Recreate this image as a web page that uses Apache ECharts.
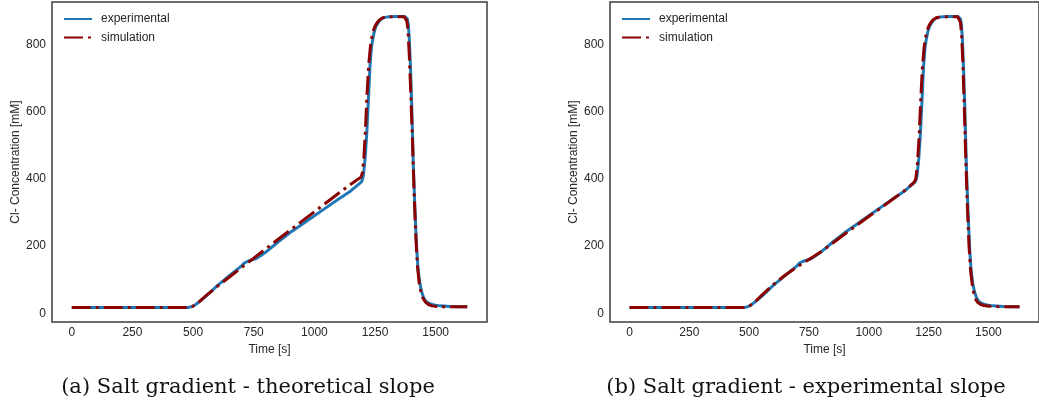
<!DOCTYPE html>
<html>
<head>
<meta charset="utf-8">
<script src="https://cdn.jsdelivr.net/npm/echarts@6/dist/echarts.min.js"></script>
<style>
html,body{margin:0;padding:0;background:#fff;}
#chart{width:1039px;height:408px;}
</style>
</head>
<body>
<div id="chart"></div>
<script>
// ---- data ----
const xTicks = [0, 250, 500, 750, 1000, 1250, 1500];
const yTicks = [0, 200, 400, 600, 800];

const expTime = [0,100,200,300,400,470,482,492,502,512,525,550,600,650,700,712,724,740,760,780,800,850,900,950,1000,1050,1100,1150,1188,1196,1202,1209,1216,1223,1229,1235,1240,1246,1253,1263,1272,1282,1295,1310,1340,1372,1378,1383,1387,1391,1396,1402,1408,1415,1422,1428,1435,1442,1450,1458,1470,1485,1500,1518,1560,1600,1630];
const expConc = [17,17,17,17,17,17,17.5,19,22,27,34,49,82,112,141,150,154,158,163,172,182,212,240,265,290,315,340,364,387,393,410,460,536,640,734,790,813,835,852,865,873,878,881,882,883,883,881,876,860,820,734,600,436,300,188,125,88,64,47,37,30,26,24,22,20,19,19];

const simTheoTime = [0,100,200,300,400,470,482,492,502,512,525,550,600,700,800,900,1000,1100,1150,1192,1198,1204,1210,1217,1224,1231,1238,1245,1252,1260,1270,1282,1295,1310,1340,1370,1376,1381,1386,1391,1397,1404,1411,1418,1425,1432,1440,1448,1458,1470,1485,1505,1540,1590,1630];
const simTheoConc = [17,17,17,17,17,17,17.5,19,22,27,34,50,80,136,192,247,302,357,384,405,418,460,540,650,740,795,825,845,857,866,874,879,881,882,882,882,879,870,840,770,660,520,360,230,140,90,60,44,33,26,22,20,19,19,19];

const simExpTime = [0,100,200,300,400,470,482,492,502,512,525,550,600,650,700,750,800,850,900,950,1000,1050,1100,1150,1188,1196,1203,1210,1217,1224,1231,1238,1245,1252,1260,1270,1282,1295,1310,1340,1372,1378,1383,1388,1393,1399,1405,1412,1419,1426,1433,1440,1448,1457,1468,1482,1500,1530,1580,1630];
const simExpConc = [17,17,17,17,17,17,17.5,19,22,27,34,52,85,113,138,160,183,209,236,262,288,313,339,365,389,398,440,520,630,730,790,822,843,856,866,874,879,881,882,882,882,879,866,830,750,620,470,320,200,125,82,57,40,31,26,23,21,20,19,19];

const seriesNames = ['experimental', 'simulation'];
const captions = ['(a) Salt gradient - theoretical slope', '(b) Salt gradient - experimental slope'];

function pairs(t, c) { return t.map((v, i) => [v, c[i]]); }

const blue = '#1f77b4';
const red = '#8b0000';
const txt = '#262626';
const font = 'Liberation Sans, Arial, sans-serif';

const grids = [
  {left: 52, top: 2, width: 435, height: 320},
  {left: 610, top: 2, width: 435, height: 320}
];

function xAxisDef(i) {
  return {
    type: 'value', gridIndex: i, min: -81.5, max: 1711.5,
    name: 'Time [s]', nameLocation: 'middle', nameGap: 18,
    nameTextStyle: {color: txt, fontSize: 12, fontFamily: font},
    axisLine: {show: false}, axisTick: {show: false}, splitLine: {show: false},
    axisLabel: {customValues: xTicks, formatter: v => String(v), color: txt, fontSize: 12, fontFamily: font, margin: 5}
  };
}
function yAxisDef(i) {
  return {
    type: 'value', gridIndex: i, min: -26, max: 926,
    name: 'Cl- Concentration [mM]', nameLocation: 'middle', nameGap: 28,
    nameTextStyle: {color: txt, fontSize: 12, fontFamily: font},
    axisLine: {show: false}, axisTick: {show: false}, splitLine: {show: false},
    axisLabel: {customValues: yTicks, formatter: v => String(v), color: txt, fontSize: 12, fontFamily: font, margin: 6}
  };
}

const expLine = {type: 'line', name: seriesNames[0], symbol: 'none', showSymbol: false, silent: true,
  lineStyle: {color: blue, width: 3, join: 'round'}, itemStyle: {color: blue}, smooth: false, animation: false, z: 2};
const simLine = {type: 'line', name: seriesNames[1], symbol: 'none', showSymbol: false, silent: true,
  lineStyle: {color: red, width: 3, type: [19, 5, 3, 5], join: 'round'}, itemStyle: {color: red}, smooth: false, animation: false, z: 3};

function legendDef(left) {
  return {
    left: left, top: 7, orient: 'vertical', itemWidth: 28, itemHeight: 14, itemGap: 4.4,
    data: seriesNames, selectedMode: false,
    itemStyle: {opacity: 0},
    textStyle: {color: txt, fontSize: 12, fontFamily: font, lineHeight: 14, padding: [0, 0, 0, 4]}
  };
}

const chart = echarts.init(document.getElementById('chart'), null, {renderer: 'canvas'});
chart.setOption({
  animation: false,
  backgroundColor: '#fff',
  grid: grids.map(g => Object.assign({show: true, borderColor: '#3c3c3c', borderWidth: 1.5, backgroundColor: 'transparent'}, g)),
  xAxis: [xAxisDef(0), xAxisDef(1)],
  yAxis: [yAxisDef(0), yAxisDef(1)],
  legend: [legendDef(58), legendDef(616)],
  series: [
    Object.assign({}, expLine, {xAxisIndex: 0, yAxisIndex: 0, data: pairs(expTime, expConc)}),
    Object.assign({}, simLine, {xAxisIndex: 0, yAxisIndex: 0, data: pairs(simTheoTime, simTheoConc)}),
    Object.assign({}, expLine, {xAxisIndex: 1, yAxisIndex: 1, data: pairs(expTime, expConc)}),
    Object.assign({}, simLine, {xAxisIndex: 1, yAxisIndex: 1, data: pairs(simExpTime, simExpConc)})
  ],
  graphic: [
    {type: 'text', x: 248, y: 388, style: {text: captions[0], fill: '#111', font: '21px "DejaVu Serif", serif', align: 'center', verticalAlign: 'middle'}},
    {type: 'text', x: 806, y: 388, style: {text: captions[1], fill: '#111', font: '21px "DejaVu Serif", serif', align: 'center', verticalAlign: 'middle'}}
  ]
});
</script>
</body>
</html>
